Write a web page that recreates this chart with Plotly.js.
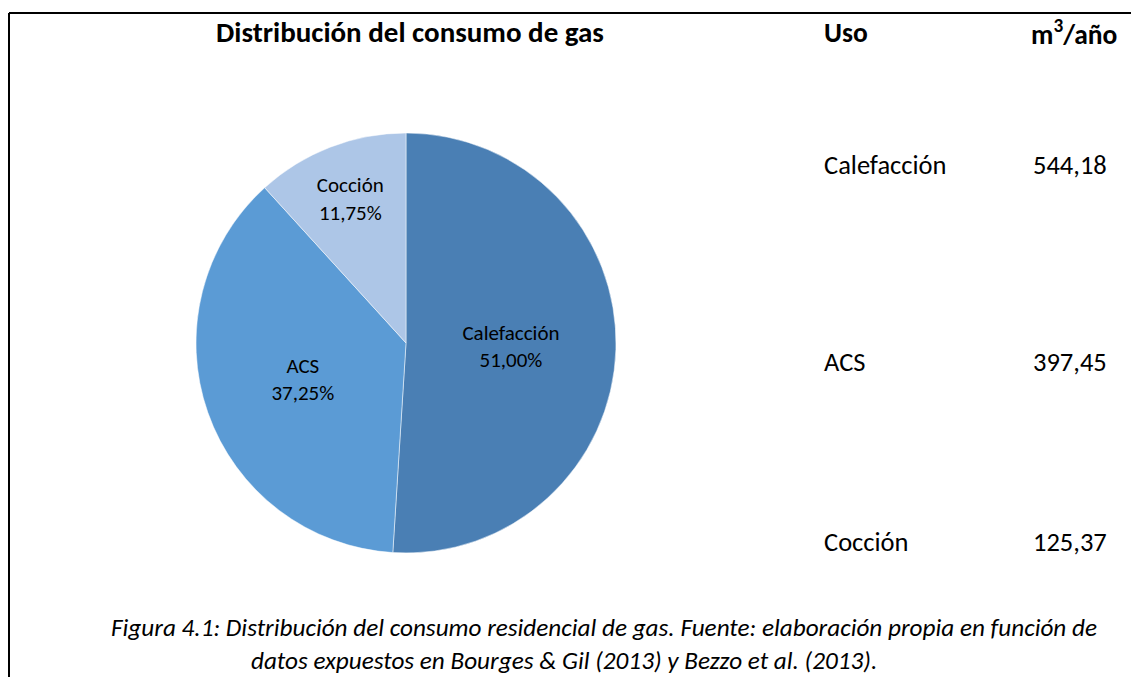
<!DOCTYPE html>
<html>
<head>
<meta charset="utf-8">
<script src="https://cdn.plot.ly/plotly-3.0.1.min.js"></script>
<style>
html,body{margin:0;padding:0;background:#fff;}
#chart{width:1131px;height:677px;}
</style>
</head>
<body>
<div id="chart"></div>
<script>
var usos = ["Calefacción", "ACS", "Cocción"];
var consumo = [544.18, 397.45, 125.37];
var colores = ["#4a7fb4", "#5b9bd5", "#adc6e7"];
var tituloGrafico = "Distribución del consumo de gas";
var cabeceraUso = "Uso";
var cabeceraUnidad = "m<sup>3</sup>/año";
var pie1 = "Figura 4.1: Distribución del consumo residencial de gas. Fuente: elaboración propia en función de";
var pie2 = "datos expuestos en Bourges & Gil (2013) y Bezzo et al. (2013).";

var FONT = "Carlito, Calibri, Lato, sans-serif";

var trace = {
  type: "pie",
  labels: usos,
  values: consumo,
  sort: false,
  direction: "clockwise",
  rotation: 0,
  marker: {colors: colores, line: {color: "#ffffff", width: 0.5}},
  texttemplate: "%{label}<br>%{percent:.2%}",
  textposition: "inside",
  insidetextorientation: "horizontal",
  textfont: {family: FONT, size: 21, color: "#000000"},
  hoverinfo: "label+value+percent",
  domain: {x: [196/1131, 616/1131], y: [1 - 553/677, 1 - 133/677]},
  showlegend: false
};

var pad = "";
for (var k = 0; k < 14; k++) pad += "&nbsp;";

var rowY = [165, 362, 542];
var annotations = [
  {text: "<b>" + tituloGrafico + "</b>", x: 410/1131, y: 1 - 32/677, xanchor: "center", yanchor: "middle", font: {size: 29}},
  {text: "<b>" + cabeceraUso + "</b>", x: 822/1131, y: 1 - 33/677, xanchor: "left", yanchor: "middle", font: {size: 27.5}},
  {text: "<b>" + cabeceraUnidad + "</b>", x: 1119/1131, y: 1 - 33/677, xanchor: "right", yanchor: "middle", font: {size: 27.5}},
  {text: "<i>" + pie1 + "<br>" + pie2 + pad + "</i>", x: 604/1131, y: 0, xanchor: "center", yanchor: "bottom", align: "center", borderpad: 0, font: {size: 25.2}}
];
for (var i = 0; i < usos.length; i++) {
  annotations.push({text: usos[i], x: 822/1131, y: 1 - rowY[i]/677, xanchor: "left", yanchor: "middle", font: {size: 26.5}});
  annotations.push({text: consumo[i].toFixed(2).replace(".", ","), x: 1109/1131, y: 1 - rowY[i]/677, xanchor: "right", yanchor: "middle", font: {size: 26.5}});
}
annotations.forEach(function(a){ a.xref = "paper"; a.yref = "paper"; a.showarrow = false; a.font.family = FONT; a.font.color = "#000000"; });

var layout = {
  width: 1131, height: 677,
  margin: {l: 0, r: 0, t: 0, b: 0},
  paper_bgcolor: "#ffffff",
  separators: ",.",
  font: {family: FONT, color: "#000000"},
  annotations: annotations,
  shapes: [
    {type: "line", xref: "paper", yref: "paper", x0: 9/1131, x1: 1, y0: 1 - 13/677, y1: 1 - 13/677, line: {color: "#000", width: 2}},
    {type: "line", xref: "paper", yref: "paper", x0: 9/1131, x1: 9/1131, y0: 1 - 13/677, y1: 0, line: {color: "#000", width: 2}}
  ]
};

Plotly.newPlot("chart", [trace], layout, {displayModeBar: false, staticPlot: true});
</script>
</body>
</html>
